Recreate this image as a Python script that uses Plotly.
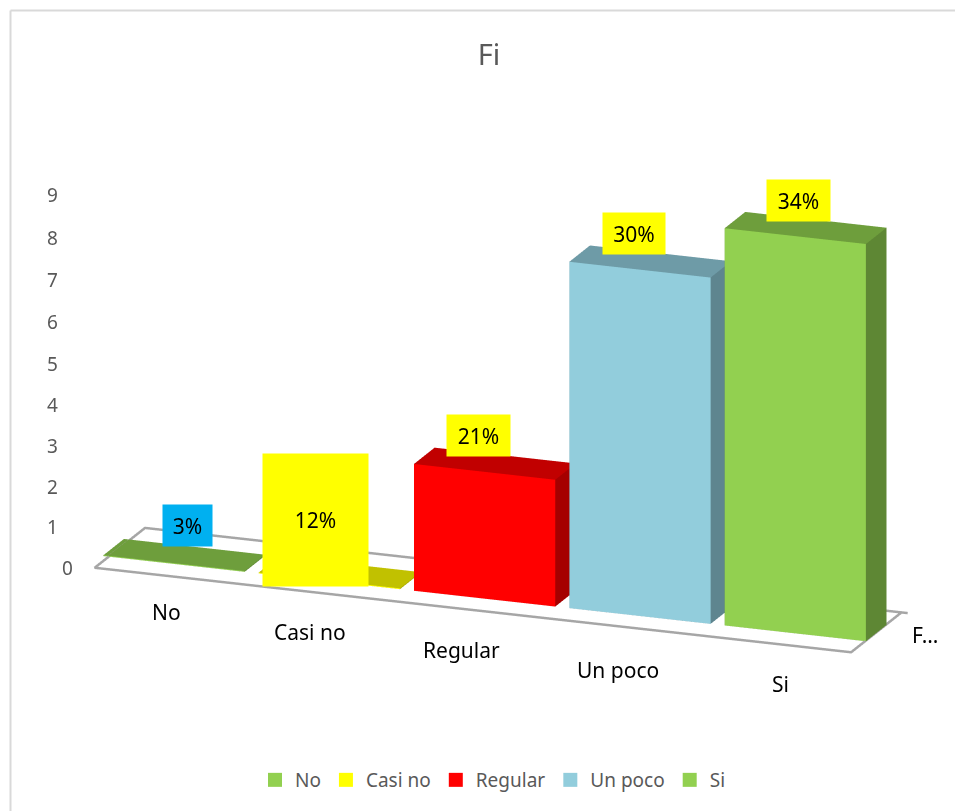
import numpy as np
import plotly.graph_objects as go

categories = ["No", "Casi no", "Regular", "Un poco", "Si"]
percent_labels = ["3%", "12%", "21%", "30%", "34%"]
values = [0.02, 0.02, 3.09, 8.44, 9.68]
z_ticks = [0, 1, 2, 3, 4, 5, 6, 7, 8, 9]
colors = ["#92D050", "#FFFF00", "#FF0000", "#92CDDC", "#92D050"]
label_bg = ["#00B0F0", "#FFFF00", "#FFFF00", "#FFFF00", "#FFFF00"]

W, H = 955, 811
# view of the 3D box (Excel-like oblique view)
THETA, PHI = 0.3594, 0.3019          # azimuth, elevation
PX_PER_UNIT = np.array([166.0, 159.5, 43.0])  # screen scale of one data unit along x, y, z
SHIFT = np.array([21.0, -2.47])      # wanted screen offset of the box centre
CAL_SCALE = 1.036
BAR_FRONT, BAR_BACK, GAP = 0.253, 0.6202, 0.0453
X_RANGE, Y_RANGE, Z_RANGE = [0, 5], [0, 1], [0, 10]

D = 2.5
S = (H/2)/(np.tan(np.pi/8)*D)*CAL_SCALE
dirv = np.array([np.sin(THETA)*np.cos(PHI), -np.cos(THETA)*np.cos(PHI), np.sin(PHI)])
r_ = np.array([np.cos(THETA), np.sin(THETA), 0.0])
u_ = np.cross(r_, -dirv)
aspect = PX_PER_UNIT*np.array([5, 1, 10])/S
cen = -(SHIFT[0]*r_ - SHIFT[1]*u_)/S
cen = cen + np.array([0, 0, (4.5-5.0)*PX_PER_UNIT[2]/S])
eye = cen + D*dirv

def screen(x, y, z):
    q = (np.array([x, y, z], float) - np.array([2.5, 0.5, 4.5]))*PX_PER_UNIT
    return np.array([W/2 + SHIFT[0] + q@r_, H/2 + SHIFT[1] - q@u_])

def shade(h, k):
    return "#%02X%02X%02X" % tuple(int(int(h[i:i+2], 16)*k) for i in (1, 3, 5))

fig = go.Figure()
for i, (v, col) in enumerate(zip(values, colors)):
    x0, x1 = i+GAP, i+1-GAP
    yf, yb = BAR_FRONT, BAR_BACK
    X = [x0, x1, x1, x0, x0, x1, x1, x0]
    Y = [yf, yf, yb, yb, yf, yf, yb, yb]
    Z = [0, 0, 0, 0, v, v, v, v]
    I = [0, 0, 4, 4, 1, 1, 0, 0, 3, 3, 0, 0]
    J = [1, 2, 5, 6, 2, 6, 1, 5, 2, 6, 3, 7]
    K = [2, 3, 6, 7, 6, 5, 5, 4, 6, 7, 7, 4]
    top, side = shade(col, .76), shade(col, .65)
    fc = [side]*2+[top]*2+[side]*2+[col]*2+[side]*4
    fig.add_trace(go.Mesh3d(x=X, y=Y, z=Z, i=I, j=J, k=K, facecolor=fc, flatshading=True, name=categories[i],
        lighting=dict(ambient=1, diffuse=0, specular=0, fresnel=0, roughness=1), showscale=False, hoverinfo="skip", showlegend=False))
    fig.add_trace(go.Scatter3d(x=[None], y=[None], z=[None], mode="markers", name=categories[i],
        marker=dict(symbol="square", size=14, color=col), showlegend=True))

# floor outline with the small tick at the back right corner
floor_x = [4.95, 0.08, 0.08, 4.95, 4.95, 4.99]
floor_y = [0.9, 0.9, 0.002, 0.002, 0.9, 0.9]
fig.add_trace(go.Scatter3d(x=floor_x, y=floor_y, z=[0.001]*6, mode="lines",
    line=dict(color="#A6A6A6", width=5), showlegend=False, hoverinfo="skip"))

ann = []
def place(x, y, z, tx, ty, text, **kw):
    p = screen(x, y, z)
    ann.append(dict(x=x, y=y, z=z, text=text, showarrow=False, xanchor="center", yanchor="middle",
                    xshift=float(tx-p[0]), yshift=float(p[1]-ty), **kw))

FONT = "Noto Sans"
tick_y = [568, 527, 487, 446, 405, 364, 322, 280, 238, 195]
for t, ty in zip(z_ticks, tick_y):
    place(0, 0, t, 52 if t else 67, ty, str(t), font=dict(family=FONT, size=19, color="#595959"))

cat_xy = [(166, 612), (310, 632), (461, 650), (618, 670), (781, 684)]
for i, (c, (tx, ty)) in enumerate(zip(categories, cat_xy)):
    place(i+.5, 0, 0, tx, ty, c, font=dict(family=FONT, size=21, color="#000000"))
place(5, .5, 0, 925, 635, "F…", font=dict(family=FONT, size=21, color="#000000"))

box_xywh = [(187.5, 525.5, 49, 41), (315.5, 520, 105, 132), (478.5, 435.5, 63, 41), (634, 233.5, 62, 41), (798.5, 200.5, 63, 41)]
for i, (t, bg, (tx, ty, bw, bh)) in enumerate(zip(percent_labels, label_bg, box_xywh)):
    place(i+.5, BAR_FRONT, values[i], tx, ty, t, bgcolor=bg, width=bw, height=bh, borderpad=0,
          font=dict(family=FONT, size=21, color="#000000"), valign="middle", align="center")

fig.update_layout(
    width=W, height=H, margin=dict(l=0, r=0, t=0, b=0), paper_bgcolor="white",
    title=dict(text="Fi", x=489/W, y=1-55/H, xanchor="center", yanchor="middle", font=dict(family=FONT, size=29, color="#595959")),
    legend=dict(orientation="h", x=493/W, y=1-780/H, xanchor="center", yanchor="middle", font=dict(family=FONT, size=19, color="#595959"), itemwidth=30, itemsizing="trace"),
    scene=dict(domain=dict(x=[0, 1], y=[0, 1]), aspectmode="manual",
        aspectratio=dict(x=aspect[0], y=aspect[1], z=aspect[2]),
        camera=dict(eye=dict(x=eye[0], y=eye[1], z=eye[2]), center=dict(x=cen[0], y=cen[1], z=cen[2]),
                    up=dict(x=0, y=0, z=1), projection=dict(type="orthographic")),
        xaxis=dict(range=X_RANGE, visible=False), yaxis=dict(range=Y_RANGE, visible=False), zaxis=dict(range=Z_RANGE, visible=False),
        annotations=ann),
    shapes=[dict(type="line", xref="paper", yref="paper", x0=10.5/W, x1=1, y0=1-10.5/H, y1=1-10.5/H, line=dict(color="#D9D9D9", width=2)),
            dict(type="line", xref="paper", yref="paper", x0=10.5/W, x1=10.5/W, y0=0, y1=1-10.5/H, line=dict(color="#D9D9D9", width=2))],
)
fig.write_html("out.html", config=dict(displayModeBar=False),
               post_script="document.body.style.margin='0';document.documentElement.style.overflow='hidden';")
